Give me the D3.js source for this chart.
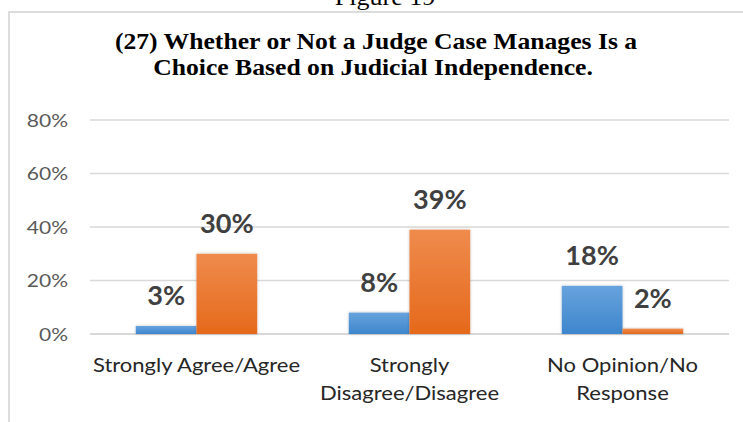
<!DOCTYPE html>
<html><head><meta charset="utf-8">
<script src="https://cdn.jsdelivr.net/npm/d3@7"></script>
<style>html,body{margin:0;padding:0;background:#fff;}svg{display:block;}</style>
</head><body>
<script>
const categories = [["Strongly Agree/Agree"], ["Strongly", "Disagree/Disagree"], ["No Opinion/No", "Response"]];
const seriesNames = ["Series A", "Series B"];
const seriesA = [3, 8, 18];
const seriesB = [30, 39, 2];
const yTicks = [0, 20, 40, 60, 80];
const titleLines = ["(27) Whether or Not a Judge Case Manages Is a", "Choice Based on Judicial Independence."];
const figureLabel = "Figure 19";

(function(){
const W = 743, H = 422;
const svg = d3.select("body").append("svg").attr("width", W).attr("height", H);
const defs = svg.append("defs");
const g1 = defs.append("linearGradient").attr("id","gA").attr("x1",0).attr("x2",0).attr("y1",0).attr("y2",1);
g1.append("stop").attr("offset","0%").attr("stop-color","#67a3dd");
g1.append("stop").attr("offset","100%").attr("stop-color","#3e86cd");
const g2 = defs.append("linearGradient").attr("id","gB").attr("x1",0).attr("x2",0).attr("y1",0).attr("y2",1);
g2.append("stop").attr("offset","0%").attr("stop-color","#ef8b4d");
g2.append("stop").attr("offset","100%").attr("stop-color","#e5691b");
const sh = defs.append("filter").attr("id","sh").attr("x","-20%").attr("y","-20%").attr("width","140%").attr("height","140%");
sh.append("feGaussianBlur").attr("in","SourceAlpha").attr("stdDeviation",1.5).attr("result","b");
sh.append("feComponentTransfer").attr("in","b").attr("result","c").append("feFuncA").attr("type","linear").attr("slope",0.25);
const m = sh.append("feMerge"); m.append("feMergeNode").attr("in","c"); m.append("feMergeNode").attr("in","SourceGraphic");

// text helper: positioned at (x,y), horizontally stretched by sx around anchor
function addText(parent, x, y, str, o) {
  return parent.append("text")
    .attr("transform", `translate(${x},${y}) scale(${o.sx||1},1)`)
    .attr("text-anchor", o.anchor || "middle")
    .attr("font-family", o.family).attr("font-size", o.size)
    .attr("font-weight", o.weight || "normal").attr("fill", o.fill)
    .text(str);
}

addText(svg, 385, 5, figureLabel, {family:"Liberation Serif", size:23, sx:1.13, fill:"#000"});

svg.append("rect").attr("x", 9).attr("y", 12).attr("width", 760).attr("height", 430)
  .attr("fill","#fff").attr("stroke","#d9d9d9").attr("stroke-width",1.8);

const tg = svg.append("g");
titleLines.forEach((t, i) => addText(tg, i === 0 ? 376 : 373, i === 0 ? 48.5 : 75, t,
  {family:"Liberation Serif", weight:"bold", size:22.7, sx:1.13, fill:"#000"}));

const pl = 90, pr = 729, pt = 120, pb = 334;
const x = d3.scaleBand().domain(d3.range(categories.length)).range([pl, pr]).paddingInner(0.43).paddingOuter(0.215);
const y = d3.scaleLinear().domain([0, 80]).range([pb, pt]);

svg.append("g").selectAll("line").data(yTicks).join("line")
  .attr("x1", pl).attr("x2", pr).attr("y1", d=>y(d)).attr("y2", d=>y(d))
  .attr("stroke","#d9d9d9").attr("stroke-width", d=> d===0 ? 2 : 1.3);

const yAxis = d3.axisLeft(y).tickValues(yTicks).tickFormat(d=>d+"%").tickSize(0).tickPadding(0);
const ya = svg.append("g").attr("transform", `translate(68,0)`).call(yAxis);
ya.select(".domain").remove();
ya.selectAll("text").attr("font-family","Lato").attr("font-size",17.5).attr("fill","#595959")
  .attr("dy","0.36em").attr("x", null).attr("transform","scale(1.2,1)");

const x1 = d3.scaleBand().domain([0,1]).range([0, x.bandwidth()]);
const series = [seriesA, seriesB];
const fills = ["url(#gA)", "url(#gB)"];
series.forEach((vals, s) => {
  const gg = svg.append("g");
  gg.selectAll("rect").data(vals).join("rect")
    .attr("x", (d,i)=> x(i) + x1(s)).attr("width", x1.bandwidth())
    .attr("y", d=>y(d)).attr("height", d=> y(0)-y(d))
    .attr("fill", fills[s]).attr("filter","url(#sh)");
  vals.forEach((d, i) => addText(gg, x(i) + x1(s) + x1.bandwidth()/2, y(d) - 21, d + "%",
    {family:"Lato", weight:"bold", size:26.3, sx:1.03, fill:"#404040"}));
});

const xAxisG = svg.append("g");
categories.forEach((lines, i) => {
  lines.forEach((ln, j) => addText(xAxisG, x(i) + x.bandwidth()/2, 372 + j*28, ln,
    {family:"Lato", size:19.5, sx:1.13, fill:"#262626"}));
});
})();
</script>
</body></html>
